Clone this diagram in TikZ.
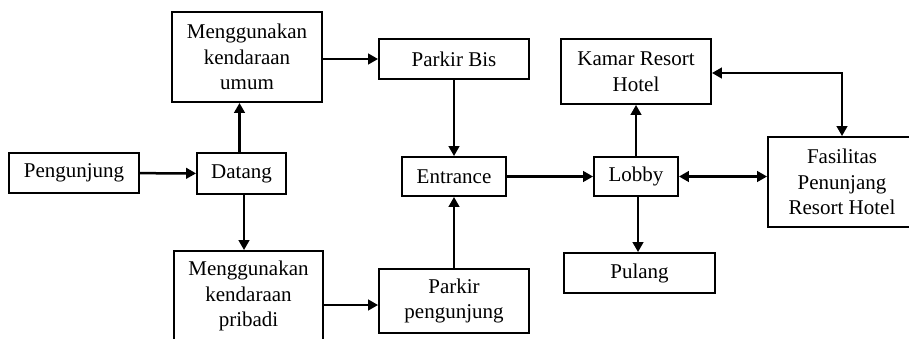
\documentclass[tikz,border=0pt]{standalone}
\usepackage{fontspec}
\setmainfont{Liberation Serif}
\usetikzlibrary{arrows.meta,calc}
\begin{document}
\begin{tikzpicture}[x=1pt,y=-1pt,
  box/.style={draw,line width=1.8pt,inner sep=0pt,align=center,anchor=center,
    font=\fontsize{21}{25.5}\selectfont},
  conn/.style={line width=2.5pt,-{Triangle[length=10pt,width=10.5pt]}},
  bconn/.style={line width=2.5pt,{Triangle[length=10pt,width=10.5pt]}-{Triangle[length=10pt,width=10.5pt]}}]
\useasboundingbox (0,0) rectangle (909,338);
\node[box,minimum width=130pt,minimum height=40pt] (peng) at (74,173) {Pengunjung};
\node[box,minimum width=89pt,minimum height=41pt] (datang) at (241.5,173.5) {Datang};
\node[box,minimum width=150pt,minimum height=90pt] (umum) at (247,57) {Menggunakan\\kendaraan\\umum};
\node[box,minimum width=149pt,minimum height=90pt] (pribadi) at (248.5,296) {Menggunakan\\kendaraan\\pribadi};
\node[box,minimum width=150pt,minimum height=40pt] (bis) at (454,59) {Parkir Bis};
\node[box,minimum width=150pt,minimum height=64pt] (ppeng) at (454,301) {Parkir\\pengunjung};
\node[box,minimum width=104pt,minimum height=39pt] (entrance) at (454,176.5) {Entrance};
\node[box,minimum width=84pt,minimum height=39pt] (lobby) at (636,176.5) {Lobby};
\node[box,minimum width=150pt,minimum height=65pt] (kamar) at (636,71.5) {Kamar Resort\\Hotel};
\node[box,minimum width=151pt,minimum height=40pt] (pulang) at (639.5,273) {Pulang};
\node[box,minimum width=148pt,minimum height=90pt] (fas) at (842,182) {Fasilitas\\Penunjang\\Resort Hotel};
\coordinate (ppin) at ($(ppeng.west)+(0,4)$);
\draw[conn] (peng) -- (datang);
\draw[conn] ($(datang.north)+(-2,0)$) -- ($(datang.north |- umum.south)+(-2,0)$);
\draw[conn] ($(datang.south)+(2.5,0)$) -- ($(datang.south |- pribadi.north)+(2.5,0)$);
\draw[conn] (bis.west -| umum.east) -- (bis.west);
\draw[conn] (bis.south) -- (entrance.north);
\draw[conn] (ppin -| pribadi.east) -- (ppin);
\draw[conn] (ppeng.north) -- (entrance.south);
\draw[conn] (entrance) -- (lobby);
\draw[conn] (lobby.north) -- (kamar.south);
\draw[conn] ($(lobby.south)+(2,0)$) -- ($(lobby.south |- pulang.north)+(2,0)$);
\draw[bconn] (lobby.east) -- (lobby.east -| fas.west);
\draw[bconn] ($(kamar.east)+(0,1.5)$) -| (fas.north);
\end{tikzpicture}
\end{document}
